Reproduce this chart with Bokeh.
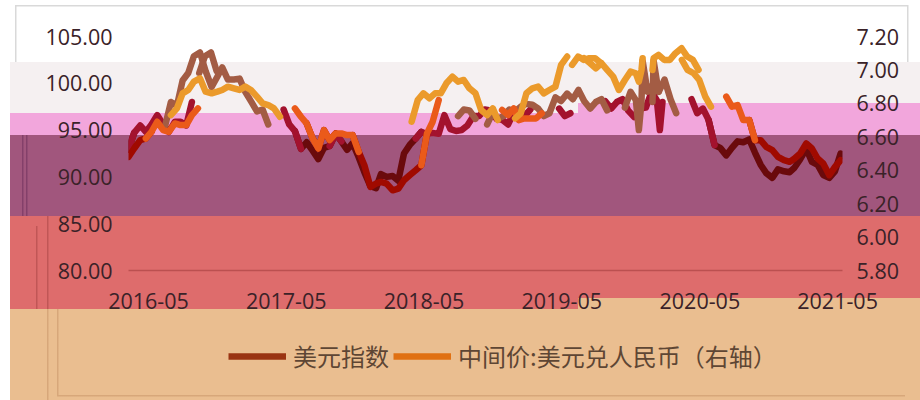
import numpy as np
import pandas as pd
from bokeh.plotting import figure
from bokeh.layouts import column
from bokeh.models import (Range1d, LinearAxis, DatetimeAxis, FixedTicker, Legend,
                          LegendItem, ColumnDataSource)
from bokeh.embed import file_html
from bokeh.resources import INLINE

# ---------------- data ----------------
dates = [
    "2016-05-01", "2016-05-16", "2016-06-01", "2016-06-16", "2016-07-01", "2016-07-16",
    "2016-08-01", "2016-08-16", "2016-09-01", "2016-09-16", "2016-10-01", "2016-10-16",
    "2016-11-01", "2016-11-16", "2016-12-01", "2016-12-16",
    "2017-01-01", "2017-01-16", "2017-02-01", "2017-02-16", "2017-03-01", "2017-03-16",
    "2017-04-01", "2017-04-16", "2017-05-01", "2017-05-16", "2017-06-01", "2017-06-16",
    "2017-07-01", "2017-07-16", "2017-08-01", "2017-08-16", "2017-09-01", "2017-09-16",
    "2017-10-01", "2017-10-16", "2017-11-01", "2017-11-16", "2017-12-01", "2017-12-16",
    "2018-01-01", "2018-01-16", "2018-02-01", "2018-02-16", "2018-03-01", "2018-03-16",
    "2018-04-01", "2018-04-16", "2018-05-01", "2018-05-16", "2018-06-01", "2018-06-16",
    "2018-07-01", "2018-07-16", "2018-08-01", "2018-08-16", "2018-09-01", "2018-09-16",
    "2018-10-01", "2018-10-16", "2018-11-01", "2018-11-16", "2018-12-01", "2018-12-16",
    "2019-01-01", "2019-01-16", "2019-02-01", "2019-02-16", "2019-03-01", "2019-03-16",
    "2019-04-01", "2019-04-16", "2019-05-01", "2019-05-16", "2019-06-01", "2019-06-16",
    "2019-07-01", "2019-07-16", "2019-08-01", "2019-08-16", "2019-09-01", "2019-09-16",
    "2019-10-01", "2019-10-16", "2019-11-01", "2019-11-16", "2019-12-01", "2019-12-16",
    "2020-01-01", "2020-01-16", "2020-02-01", "2020-02-16", "2020-03-01", "2020-03-09",
    "2020-03-16", "2020-03-19", "2020-04-01", "2020-04-16", "2020-05-01", "2020-05-16",
    "2020-06-01", "2020-06-16", "2020-07-01", "2020-07-16", "2020-08-01", "2020-08-16",
    "2020-09-01", "2020-09-16", "2020-10-01", "2020-10-16", "2020-11-01", "2020-11-16",
    "2020-12-01", "2020-12-16",
    "2021-01-01", "2021-01-16", "2021-02-01", "2021-02-16", "2021-03-01", "2021-03-16",
    "2021-04-01", "2021-04-16", "2021-05-01", "2021-05-16", "2021-06-01", "2021-06-16",
    "2021-07-01",
]

usd_index = [
    92.9, 94.7, 95.5, 94.8, 95.6, 96.6, 95.6, 94.8, 95.9, 95.9, 95.5, 98.0,
    97.6, 100.3, 101.1, 102.9,
    103.3, 101.3, 99.6, 100.7, 101.7, 100.4, 100.4, 100.5, 99.1, 98.1, 97.0, 97.2,
    95.6, 94.9, 93.0, 93.7, 92.8, 91.9, 93.1, 93.3, 94.6, 93.8, 92.9, 93.6,
    92.1, 90.5, 89.0, 88.8, 90.3, 90.0, 90.1, 89.6, 92.5, 93.4, 94.1, 94.8,
    94.6, 94.7, 94.6, 96.6, 95.1, 94.9, 95.0, 95.5, 96.5, 96.5, 97.2, 97.1,
    96.2, 96.1, 95.6, 96.9, 96.2, 96.5, 97.2, 97.0, 97.5, 97.8, 97.7, 97.3,
    96.5, 96.8, 98.5, 98.1, 98.9, 98.3, 99.3, 98.1, 97.3, 98.0, 98.3, 97.1,
    96.4, 97.3, 97.4, 99.1, 98.2, 95.0, 98.0, 102.4, 99.1, 99.9, 99.1, 100.4,
    98.3, 96.8, 97.3, 96.1, 93.4, 93.1, 92.3, 93.1, 93.8, 93.7, 94.0, 92.6,
    91.3, 90.4,
    89.9, 90.8, 90.6, 90.5, 91.0, 91.9, 93.0, 91.6, 91.3, 90.2, 89.9, 90.6,
    92.5,
]

cny_mid = [
    6.48, 6.53, 6.58, 6.59, 6.63, 6.69, 6.64, 6.63, 6.68, 6.67, 6.67, 6.73,
    6.77, 6.86, 6.88, 6.93,
    6.95, 6.87, 6.86, 6.87, 6.88, 6.90, 6.89, 6.88, 6.90, 6.88, 6.84, 6.80,
    6.79, 6.77, 6.72, 6.68, 6.59, 6.53, 6.64, 6.58, 6.62, 6.62, 6.61, 6.61,
    6.51, 6.43, 6.30, 6.32, 6.33, 6.32, 6.28, 6.29, 6.34, 6.37, 6.40, 6.43,
    6.62, 6.69, 6.82, 6.86, 6.83, 6.86, 6.86, 6.92, 6.96, 6.93, 6.94, 6.89,
    6.86, 6.76, 6.73, 6.77, 6.70, 6.71, 6.71, 6.71, 6.74, 6.86, 6.89, 6.90,
    6.86, 6.88, 6.90, 7.03, 7.08, 7.06, 7.07, 7.07, 7.04, 7.01, 7.04, 7.00,
    6.96, 6.88, 6.94, 6.99, 6.98, 6.93, 7.00, 7.07, 7.09, 7.06, 7.06, 7.10,
    7.13, 7.08, 7.06, 7.00, 6.98, 6.94, 6.84, 6.78, 6.79, 6.70, 6.70, 6.58,
    6.58, 6.54,
    6.52, 6.48, 6.46, 6.45, 6.47, 6.50, 6.56, 6.53, 6.47, 6.44, 6.37, 6.42,
    6.46,
]

x_tick_labels = ["2016-05", "2017-05", "2018-05", "2019-05", "2020-05", "2021-05"]
left_tick_labels = ["80.00", "85.00", "90.00", "95.00", "100.00", "105.00"]
right_tick_labels = ["5.80", "6.00", "6.20", "6.40", "6.60", "6.80", "7.00", "7.20"]
series_names = ["美元指数", "中间价:美元兑人民币（右轴）"]

assert len(dates) == len(usd_index) == len(cny_mid)

# ---------------- layout ----------------
W, H_TOP, H_LEG = 920, 316, 84
FL, FR, FT, FB = 128, 78, 36, 46          # borders around the chart frame (px)
FW, FH = W - FL - FR, H_TOP - FT - FB

x_start = pd.Timestamp("2016-05-01")
x_end = pd.Timestamp("2021-07-06")
span = x_end - x_start
ms_px = span / FW
left_ticks = [float(s) for s in left_tick_labels]
right_ticks = [float(s) for s in right_tick_labels]

p = figure(width=W, height=H_TOP, output_backend="svg", toolbar_location=None,
           x_axis_type="datetime", x_axis_location=None,
           x_range=Range1d(x_start, x_end),
           y_range=Range1d(left_ticks[0], left_ticks[-1]),
           min_border_left=FL, min_border_right=FR,
           min_border_top=FT, min_border_bottom=FB)
p.extra_y_ranges = {"cny": Range1d(right_ticks[0], right_ticks[-1])}
# the date labels sit in a band of the picture that is offset 20 px to the right
X_LABEL_DX = 20
p.extra_x_ranges = {"xlab": Range1d(x_start - ms_px * X_LABEL_DX,
                                    x_end - ms_px * X_LABEL_DX)}
p.background_fill_color = None
p.border_fill_color = None
p.outline_line_color = None
p.xgrid.visible = False
p.ygrid.visible = False

TICK_FONT = "Open Sans"
TICK_SIZE = "21.5px"
TICK_COLOR = "#3a2228"

# x axis
xt = [pd.Timestamp(s + "-01").value / 1e6 for s in x_tick_labels]
ax_x = DatetimeAxis(x_range_name="xlab", ticker=FixedTicker(ticks=xt))
ax_x.major_label_overrides = {t: s for t, s in zip(xt, x_tick_labels)}
ax_x.axis_line_color = "#bb5050"
ax_x.axis_line_width = 1.5
ax_x.major_label_standoff = 22
p.add_layout(ax_x, "below")

# left / right axes
p.yaxis.ticker = FixedTicker(ticks=left_ticks)
p.yaxis.major_label_overrides = {t: s for t, s in zip(left_ticks, left_tick_labels)}
p.yaxis.axis_line_color = None
p.yaxis.major_label_standoff = 16
ax_r = LinearAxis(y_range_name="cny", ticker=FixedTicker(ticks=right_ticks))
ax_r.major_label_overrides = {t: s for t, s in zip(right_ticks, right_tick_labels)}
ax_r.axis_line_color = None
ax_r.major_label_standoff = 14
p.add_layout(ax_r, "right")
for ax in (ax_x, p.yaxis[0], ax_r):
    ax.major_tick_line_color = None
    ax.minor_tick_line_color = None
    ax.major_tick_out = 0
    ax.major_tick_in = 0
    ax.minor_tick_out = 0
    ax.major_label_text_font = TICK_FONT
    ax.major_label_text_font_size = TICK_SIZE
    ax.major_label_text_color = TICK_COLOR

# ---------------- lines, tinted per band ----------------
STEP = 578
dt = pd.to_datetime(dates)


def band_of(px, py):
    if py < 62:
        return 0
    if py < (113 if px < STEP else 103):
        return 1
    if py < 135:
        return 2
    return 3


BAND_DX = [-10, -21, 0, 0]
USD_COLORS = ["#a35c44", "#a35c44", "#a3122e", "#6a0a0c"]
CNY_COLORS = ["#eb9a2b", "#eb9a2b", "#ea5a1a", "#a00a00"]
LW = 6.5


def draw(vals, lo, hi, colors, y_range_name="default"):
    vals = np.asarray(vals, dtype=float)
    pys = FT + (hi - vals) / (hi - lo) * FH
    pxs = FL + np.asarray((dt - x_start) / span, dtype=float) * FW
    idx = np.array([band_of(a, b) for a, b in zip(pxs, pys)])
    for b in (3, 2, 1, 0):
        m = idx == b
        if not m.any():
            continue
        ext = m.copy()
        ext[1:] |= m[:-1]
        ext[:-1] |= m[1:]
        y = np.where(ext, vals, np.nan)
        x = dt + ms_px * BAND_DX[b]
        src = ColumnDataSource(dict(x=x, y=y))
        p.line("x", "y", source=src, line_color=colors[b], line_width=LW,
               line_join="round", line_cap="round", y_range_name=y_range_name)


draw(usd_index, left_ticks[0], left_ticks[-1], USD_COLORS)
draw(cny_mid, right_ticks[0], right_ticks[-1], CNY_COLORS, "cny")

# ---------------- legend strip (second figure) ----------------
q = figure(width=W, height=H_LEG, output_backend="svg", toolbar_location=None,
           x_axis_type=None, y_axis_type=None,
           x_range=Range1d(0, 1), y_range=Range1d(0, 1),
           min_border=0)
q.background_fill_color = None
q.border_fill_color = None
q.outline_line_color = None
q.xgrid.visible = False
q.ygrid.visible = False
r_usd = q.line(x=[5, 6], y=[5, 6], line_color="#9a3412", line_width=LW)
r_cny = q.line(x=[5, 6], y=[5, 6], line_color="#e07012", line_width=LW)
legend = Legend(items=[LegendItem(label=series_names[0], renderers=[r_usd]),
                       LegendItem(label=series_names[1], renderers=[r_cny])],
                orientation="horizontal", location=(100, 27),
                glyph_width=58, glyph_height=28, label_height=28,
                label_standoff=7, spacing=4, padding=0, margin=0,
                border_line_color=None, background_fill_alpha=0,
                label_text_font="Noto Sans CJK SC",
                label_text_font_size="24px", label_text_color="#5e4634")
q.add_layout(legend)

lay = column(p, q, spacing=0)

# ---------------- coloured horizontal bands (CSS background layers) -------------
GRAY, PINK, PURPLE, RED, TAN = "#f5f0f1", "#f2a6dc", "#a1567d", "#de6c6c", "#eabe90"
rects = [  # (x0, x1, y0, y1, colour) — top-most first
    (15, 908, 5, 6.5, "#d9d9d9"),
    (15, 16.5, 5, 62, "#d9d9d9"),
    (907, 908.5, 5, 62, "#d9d9d9"),
    (22, 23.5, 135, 216, "#84406a"),
    (26, 27.5, 135, 216, "#84406a"),
    (36, 37.5, 226, 309, "#c05656"),
    (47, 48.5, 216, 309, "#c05656"),
    (47, 48.5, 309, 400, "#d7a77a"),
    (57, 58.5, 309, 396, "#d7a77a"),
    (57, 905, 395, 396.5, "#d7a77a"),
    (10, STEP, 62, 113, GRAY),
    (STEP, 920, 62, 103, GRAY),
    (10, STEP, 113, 135, PINK),
    (STEP, 920, 103, 135, PINK),
    (10, 920, 135, 216, PURPLE),
    (10, STEP, 216, 309, RED),
    (STEP, 920, 216, 298, RED),
    (10, STEP, 309, 400, TAN),
    (STEP, 920, 298, 400, TAN),
]
lay.styles = {
    "background-color": "white",
    "background-repeat": "no-repeat",
    "background-image": ", ".join(f"linear-gradient({c}, {c})" for *_, c in rects),
    "background-position": ", ".join(f"{x0}px {y0}px" for x0, _, y0, _, _ in rects),
    "background-size": ", ".join(f"{x1 - x0}px {y1 - y0}px" for x0, x1, y0, y1, _ in rects),
}

open("out.html", "w").write(file_html(lay, INLINE))
